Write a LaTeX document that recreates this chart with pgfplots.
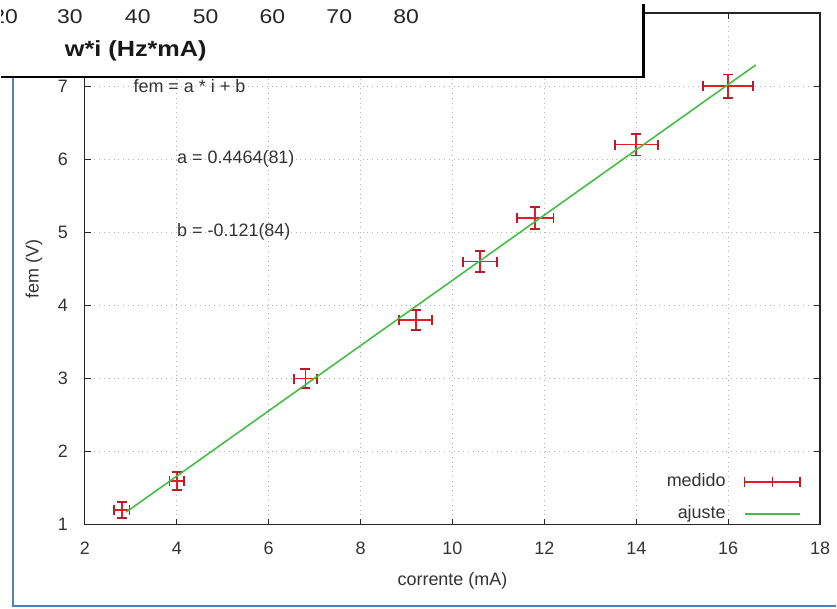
\documentclass[border=0pt]{standalone}
\usepackage{pgfplots}
\pgfplotsset{compat=1.18}
\usepackage{fontspec}
\setmainfont{Liberation Sans}
\definecolor{errred}{RGB}{225,30,40}
\definecolor{capred}{RGB}{180,30,40}
\definecolor{fitgreen}{RGB}{70,190,70}
\definecolor{frameblue}{RGB}{79,129,189}
\pgfplotstableread{
x y ex ey
2.8 1.2 0.17 0.11
4.0 1.6 0.16 0.12
6.8 3.0 0.25 0.13
9.2 3.8 0.36 0.14
10.6 4.6 0.37 0.14
11.8 5.2 0.40 0.15
14.0 6.2 0.47 0.15
16.0 7.0 0.54 0.16
}\medido
\pgfplotstableread{
x y
2.9 1.1736
16.6 7.2892
}\ajuste
\begin{document}
\begin{tikzpicture}
\begin{scope}[x=0.5pt,y=-0.5pt,yshift=303pt]
\useasboundingbox (0,0) rectangle (837,606);
\end{scope}
\begin{axis}[
  at={(42pt,42pt)}, anchor=south west,
  scale only axis, width=368.5pt, height=256.5pt,
  xmin=2, xmax=18, ymin=1, ymax=8,
  xtick={2,4,...,18}, ytick={1,...,8},
  tick align=inside, major tick length=3pt,
  axis line style={black!85, line width=0.6pt},
  every tick/.style={black!85, line width=0.6pt},
  grid=major,
  major grid style={gray!60, dotted, line width=0.6pt},
  /pgf/number format/assume math mode=true,
  tick label style={font=\fontsize{9}{10}\selectfont, text=black!80},
  xticklabel style={yshift=-5pt},
  yticklabel style={xshift=-5pt},
  label style={font=\fontsize{9}{10}\selectfont, text=black!80},
  xlabel={corrente (mA)}, ylabel={fem (V)},
  xlabel style={at={(axis description cs:0.5,0)}, anchor=center, yshift=-28pt},
  ylabel style={at={(axis description cs:0,0.5)}, anchor=center, yshift=25.5pt},
  legend plot pos=right,
  legend cell align=right,
  legend style={draw=none, fill=none, at={(axis description cs:0.975,0.108)}, anchor=north east,
    font=\fontsize{9}{10}\selectfont, text=black!80, row sep=4pt, column sep=7pt, inner sep=0pt},
]
\addplot[errred, line width=0.9pt, draw=none, mark=none, forget plot,
  error bars/.cd, x dir=both, x explicit, y dir=both, y explicit,
  error mark=-, error mark options={draw=capred, line width=0.9pt, mark size=2.5pt, rotate=90},
  error bar style={draw=errred, line width=0.9pt}]
  table[x=x, y=y, x error=ex, y error=ey] {\medido};
\addplot[fitgreen, line width=0.8pt, mark=none, forget plot] table[x=x, y=y] {\ajuste};
\addlegendimage{legend image code/.code={
  \draw[errred, line width=0.9pt] (0pt,0pt) -- (28pt,0pt);
  \draw[capred, line width=0.9pt] (0pt,-2.5pt) -- (0pt,2.5pt) (14pt,-2.5pt) -- (14pt,2.5pt) (28pt,-2.5pt) -- (28pt,2.5pt);}}
\addlegendentry{medido}
\addlegendimage{legend image code/.code={\draw[fitgreen, line width=0.8pt] (0pt,0pt) -- (28pt,0pt);}}
\addlegendentry{ajuste}
\node[anchor=west, inner sep=0pt, font=\fontsize{9}{10}\selectfont, text=black!80] at (axis cs:3.05,7) {fem = a * i + b};
\node[anchor=west, inner sep=0pt, font=\fontsize{9}{10}\selectfont, text=black!80] at (axis cs:4.0,6) {a = 0.4464(81)};
\node[anchor=west, inner sep=0pt, font=\fontsize{9}{10}\selectfont, text=black!80] at (axis cs:4.0,5) {b = -0.121(84)};
\end{axis}
\begin{scope}[x=0.5pt,y=-0.5pt,yshift=303pt]
\draw[frameblue, line width=1pt] (12,73) -- (12,603) -- (837,603);
\fill[white] (0,0) rectangle (644,73);
\draw[black, line width=1.1pt] (0,73) -- (644,73) -- (644,0);
\begin{scope}
\clip (0,0) rectangle (644,73);
\foreach \xx/\lab in {4/20, 69/30, 137/40, 205/50, 272/60, 339/70, 406/80}
  \node[inner sep=0pt, font=\fontsize{10}{12}\selectfont, text=black!85, xscale=1.15, transform shape] at (\xx,13) {\lab};
\end{scope}
\node[inner sep=0pt, font=\bfseries\fontsize{11}{13}\selectfont, text=black!90, xscale=1.15, transform shape] at (135,47) {w*i (Hz*mA)};
\end{scope}
\end{tikzpicture}
\end{document}
